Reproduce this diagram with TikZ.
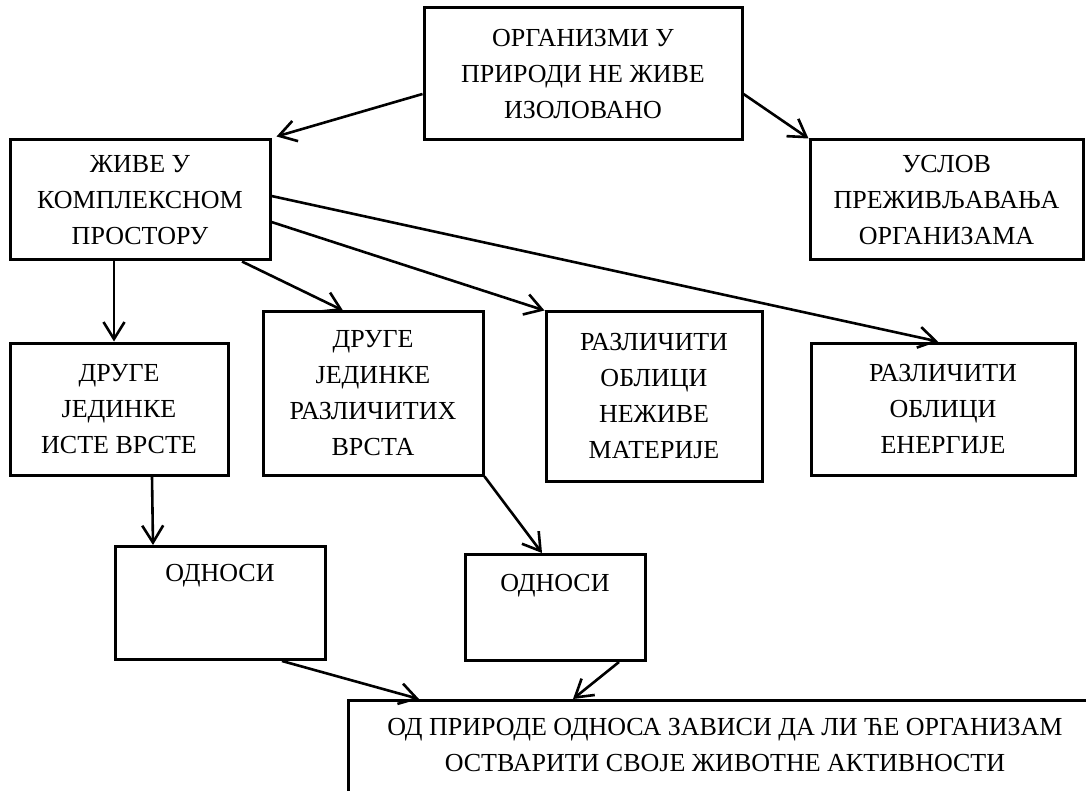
\documentclass[tikz,border=0pt]{standalone}
\usepackage{fontspec}
\setmainfont{Liberation Serif}
\usetikzlibrary{arrows.meta}

\begin{document}
\begin{tikzpicture}[x=1pt,y=-1pt,>={Straight Barb[length=17pt,width=21pt]},
  box/.style={draw,line width=3pt,align=center,inner sep=0pt,font=\fontsize{26}{36}\selectfont},
  link/.style={line width=2.6pt,->}]
\useasboundingbox (0,0) rectangle (1086,791);
\node[box,minimum width=318pt,minimum height=132pt] (org) at (583,74) {ОРГАНИЗМИ У\\ПРИРОДИ НЕ ЖИВЕ\\ИЗОЛОВАНО};
\node[box,minimum width=260pt,minimum height=120pt] (zive) at (140,200) {ЖИВЕ У\\КОМПЛЕКСНОМ\\ПРОСТОРУ};
\node[box,minimum width=273pt,minimum height=120pt] (uslov) at (946.5,200) {УСЛОВ\\ПРЕЖИВЉАВАЊА\\ОРГАНИЗАМА};
\node[box,minimum width=218pt,minimum height=132pt] (same) at (119,409) {ДРУГЕ\\ЈЕДИНКЕ\\ИСТЕ ВРСТЕ};
\node[box,minimum width=220pt,minimum height=163pt] (diff) at (373,393.5) {ДРУГЕ\\ЈЕДИНКЕ\\РАЗЛИЧИТИХ\\ВРСТА};
\node[box,minimum width=216pt,minimum height=169pt] (mat) at (654,396.5) {РАЗЛИЧИТИ\\ОБЛИЦИ\\НЕЖИВЕ\\МАТЕРИЈЕ};
\node[box,minimum width=264pt,minimum height=132pt] (energy) at (943,409) {РАЗЛИЧИТИ\\ОБЛИЦИ\\ЕНЕРГИЈЕ};
\node[box,anchor=north,minimum width=210pt,text height=35pt,text depth=78pt] (rel1) at (220,545) {ОДНОСИ};
\node[box,anchor=north,minimum width=180pt,text height=37pt,text depth=69pt] (rel2) at (555,553) {ОДНОСИ};
\node[box,anchor=north west,minimum width=753pt,text height=71pt,text depth=64pt] (result) at (347,699) {ОД ПРИРОДЕ ОДНОСА ЗАВИСИ ДА ЛИ ЋЕ ОРГАНИЗАМ\\ОСТВАРИТИ СВОЈЕ ЖИВОТНЕ АКТИВНОСТИ};
\draw[link] ([yshift=-20pt]org.west) -- ([shift={(5pt,2pt)}]zive.north east);
\draw[link] ([yshift=-20pt]org.east) -- (uslov.north west);
\draw[link] ([xshift=-26pt]zive.south) -- ([xshift=-5pt]same.north);
\draw[link] ([xshift=102pt]zive.south) -- ([xshift=-30pt]diff.north);
\draw[link] ([yshift=-22pt]zive.east) -- (mat.north west);
\draw[link] ([yshift=4pt]zive.east) -- ([xshift=-5pt]energy.north);
\draw[link] ([xshift=33pt]same.south) -- ([xshift=-67pt]rel1.north);
\draw[link] (diff.south east) -- ([xshift=-13pt]rel2.north);
\draw[link] ([xshift=62pt]rel1.south) -- ([xshift=72pt]result.north west);
\draw[link] ([xshift=64pt]rel2.south) -- ([xshift=226pt]result.north west);
\end{tikzpicture}
\end{document}
